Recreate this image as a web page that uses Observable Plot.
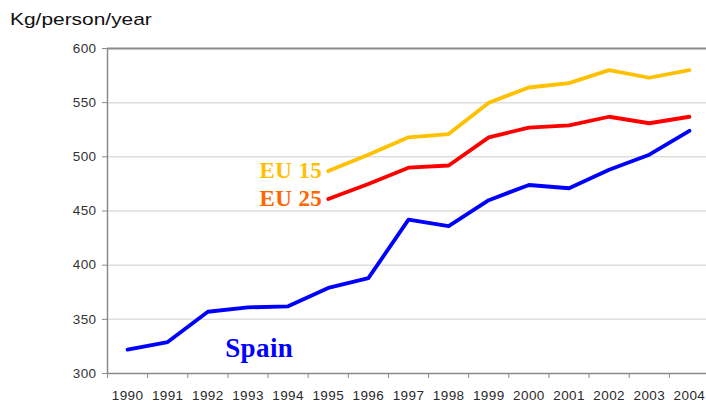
<!DOCTYPE html>
<html>
<head>
<meta charset="utf-8">
<script src="https://cdn.jsdelivr.net/npm/d3@7"></script>
<script src="https://cdn.jsdelivr.net/npm/@observablehq/plot@0.6"></script>
<style>
  html, body { margin: 0; padding: 0; background: #fff; }
  #wrap { position: relative; width: 706px; height: 405px; }
  #title { position: absolute; left: 10px; top: 10px; font-family: "Liberation Sans", Arial, sans-serif; font-size: 17px; color: #111; transform: scaleX(1.23); transform-origin: left top; white-space: nowrap; }
  svg text { letter-spacing: 0.4px; }
</style>
</head>
<body>
<div id="wrap"><div id="title">Kg/person/year</div></div>
<script>
const years = [1990,1991,1992,1993,1994,1995,1996,1997,1998,1999,2000,2001,2002,2003,2004];
const spain = [322,329,357,361,362,379,388,442,436,460,474,471,488,502,524];
const eu15Years = [1995,1996,1997,1998,1999,2000,2001,2002,2003,2004];
const eu15 = [487,502,518,521,550,564,568,580,573,580];
const eu25 = [461,475,490,492,518,527,529,537,531,537];
const yTicks = [300,350,400,450,500,550,600];
const seriesNames = ["Spain","EU 15","EU 25"];
const seriesColors = ["#0000FF","#FFC000","#FF0000"];
const labelColors = ["#0000FF","#FFC000","#FF6600"];

const rows = [
  ...years.map((yr,i) => ({year: yr, value: spain[i], series: seriesNames[0]})),
  ...eu15Years.map((yr,i) => ({year: yr, value: eu15[i], series: seriesNames[1]})),
  ...eu15Years.map((yr,i) => ({year: yr, value: eu25[i], series: seriesNames[2]}))
];
const boundaries = [...years.map(y => y - 0.5), years[years.length-1] + 0.5];
const eu15Label = [{year: eu15Years[0], value: eu15[0], text: seriesNames[1]}];
const eu25Label = [{year: eu15Years[0], value: eu25[0], text: seriesNames[2]}];
const spainLabel = [{year: 1993.28, value: 323, text: seriesNames[0]}];

const serif = "'Liberation Serif', 'Times New Roman', serif";
const chart = Plot.plot({
  width: 706,
  height: 405,
  marginTop: 48,
  marginBottom: 32,
  marginLeft: 107,
  marginRight: 0,
  style: {fontFamily: "'Liberation Sans', Arial, sans-serif", fontSize: "13.5px", color: "#333", background: "transparent", overflow: "visible"},
  x: {type: "linear", domain: [boundaries[0], boundaries[boundaries.length-1]], range: [107, 709]},
  y: {domain: [300, 600]},
  marks: [
    Plot.ruleY(yTicks.slice(1, -1), {stroke: "#dedede", strokeWidth: 1.5}),
    Plot.ruleY([600], {stroke: "#8a8a8a", strokeWidth: 2}),
    Plot.ruleY([300], {stroke: "#8a8a8a", strokeWidth: 1.5}),
    Plot.ruleX([boundaries[0]], {y1: 300, y2: 600, stroke: "#8a8a8a", strokeWidth: 1.5}),
    Plot.axisY({ticks: yTicks, tickSize: 5, tickPadding: 6, stroke: "#8a8a8a", label: null, tickFormat: d => String(d), fill: "#333"}),
    Plot.axisX({ticks: boundaries, tickSize: 5, tickFormat: () => "", label: null, stroke: "#8a8a8a"}),
    Plot.axisX({ticks: years, tickSize: 0, tickPadding: 17, tickFormat: d => String(d), label: null, fill: "#2a2a2a"}),
    Plot.line(rows, {x: "year", y: "value", z: "series", stroke: d => seriesColors[seriesNames.indexOf(d.series)], strokeWidth: 3.8, strokeLinejoin: "round", strokeLinecap: "round"}),
    Plot.text(eu15Label, {x: "year", y: "value", text: "text", textAnchor: "end", dx: -6, fill: labelColors[1], fontSize: 23, fontWeight: "bold", fontFamily: serif}),
    Plot.text(eu25Label, {x: "year", y: "value", text: "text", textAnchor: "end", dx: -6, fill: labelColors[2], fontSize: 23, fontWeight: "bold", fontFamily: serif}),
    Plot.text(spainLabel, {x: "year", y: "value", text: "text", fill: labelColors[0], fontSize: 27, fontWeight: "bold", fontFamily: serif})
  ]
});
chart.style.position = "absolute";
chart.style.left = "0";
chart.style.top = "0";
document.getElementById("wrap").appendChild(chart);
</script>
</body>
</html>
